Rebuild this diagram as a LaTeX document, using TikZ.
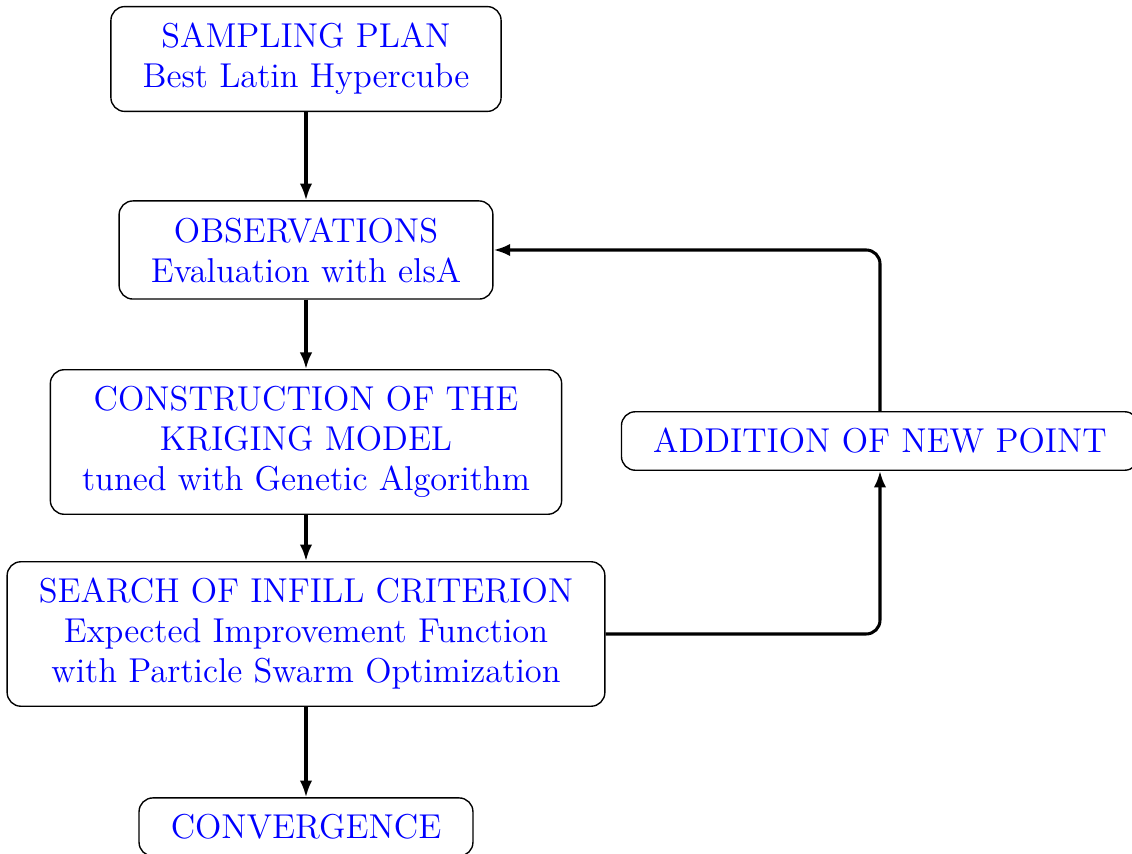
\documentclass[tikz,border=0pt]{standalone}
\usetikzlibrary{arrows.meta}
\begin{document}
\begin{tikzpicture}[x=0.3623pt,y=-0.3623pt,
  box/.style={draw,rounded corners=5pt,font=\fontsize{12.5}{14.5}\selectfont,text=blue,align=center,inner xsep=11.5pt,inner ysep=6pt,line width=0.5pt},
  conn/.style={-{Latex[length=6pt,width=4.5pt]},line width=1.1pt,rounded corners=5pt}]
\useasboundingbox (0,0) rectangle (1132,854);
\node[box] (samp) at (306,59) {SAMPLING PLAN\\Best Latin Hypercube};
\node[box] (obs) at (306,250) {OBSERVATIONS\\Evaluation with elsA};
\node[box] (cons) at (306,442) {CONSTRUCTION OF THE\\KRIGING MODEL\\tuned with Genetic Algorithm};
\node[box] (srch) at (306,634) {SEARCH OF INFILL CRITERION\\Expected Improvement Function\\with Particle Swarm Optimization};
\node[box] (conv) at (306,827) {CONVERGENCE};
\node[box] (add) at (880,441) {ADDITION OF NEW POINT};
\draw[conn] (samp) -- (obs);
\draw[conn] (obs) -- (cons);
\draw[conn] (cons) -- (srch);
\draw[conn] (srch) -- (conv);
\draw[conn] (srch.east) -| (add.south);
\draw[conn] (add.north) |- (obs.east);
\end{tikzpicture}
\end{document}
